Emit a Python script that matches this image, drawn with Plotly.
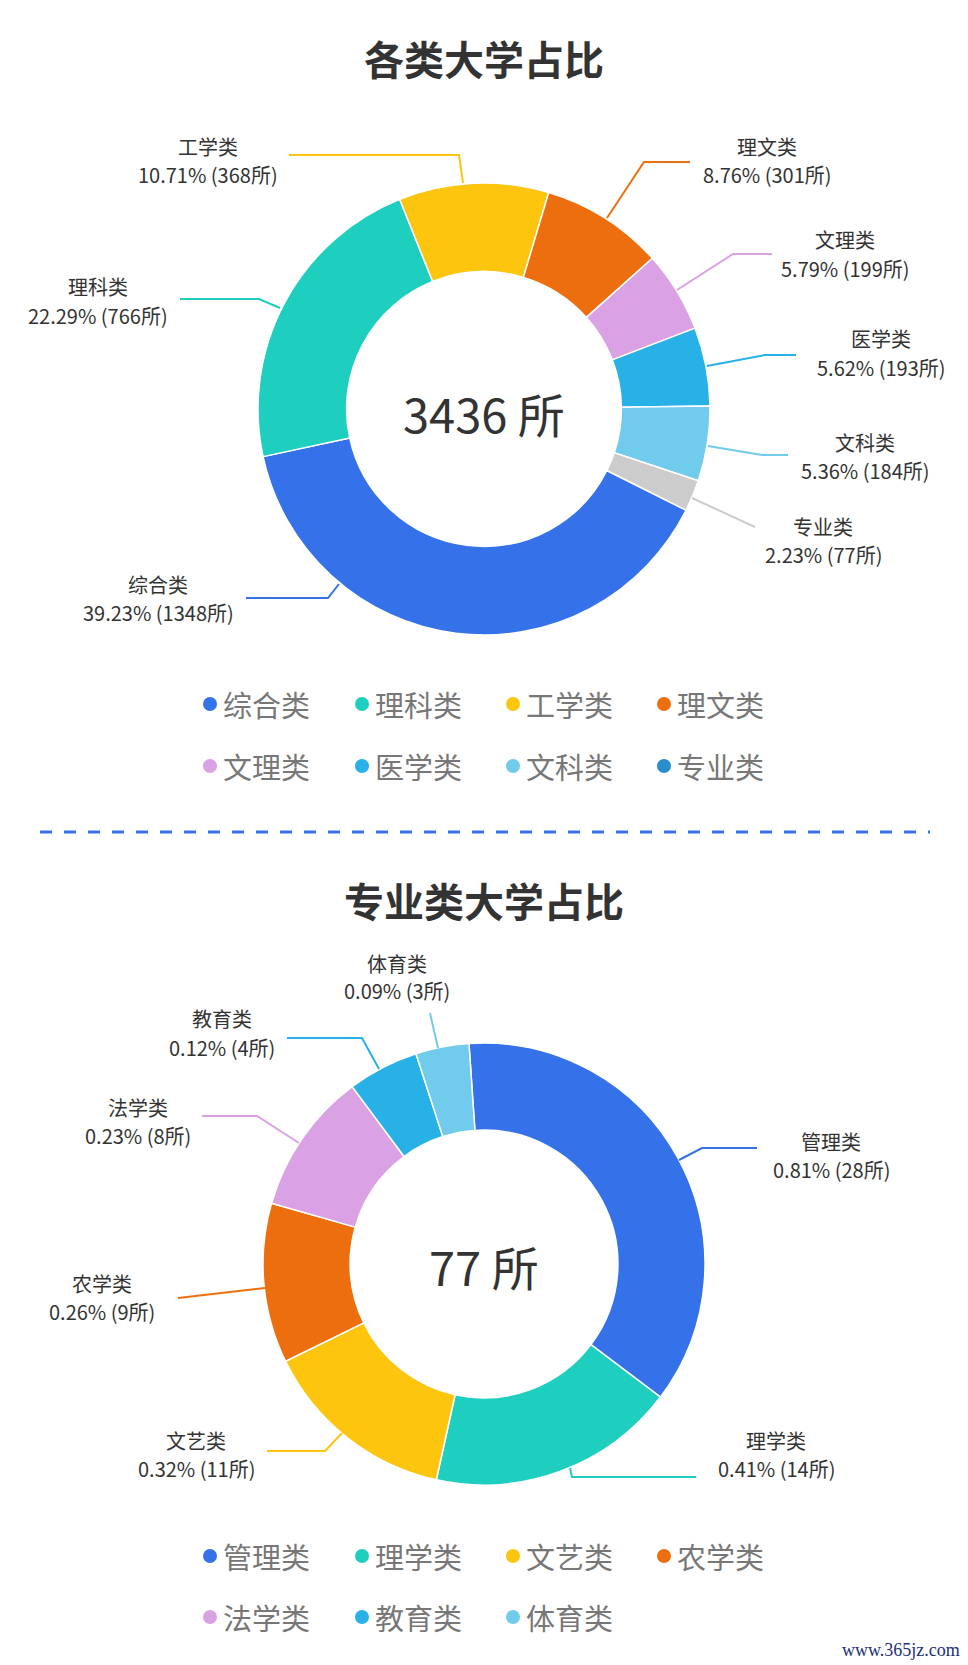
import plotly.graph_objects as go

W, H = 968, 1665

# %% data
cats_all = ["综合类", "理科类", "工学类", "理文类", "文理类", "医学类", "文科类", "专业类"]
counts_all = [1348, 766, 368, 301, 199, 193, 184, 77]
pct_all = ["39.23%", "22.29%", "10.71%", "8.76%", "5.79%", "5.62%", "5.36%", "2.23%"]

cats_pro = ["管理类", "理学类", "文艺类", "农学类", "法学类", "教育类", "体育类"]
counts_pro = [28, 14, 11, 9, 8, 4, 3]
pct_pro = ["0.81%", "0.41%", "0.32%", "0.26%", "0.23%", "0.12%", "0.09%"]

palette = ["#3572e9", "#1ecebf", "#fec50f", "#ed6e0e", "#dba1e5", "#27b1e6", "#70cbec"]
colors_all = palette + ["#cccccc"]
legend_colors_all = palette + ["#2a8ecc"]
colors_pro = palette

# %% label layout in page pixels: leader polyline, label centre x, name y, value y
top_labels = [
    ([(339, 584), (328, 598), (246, 598)], 158, 585, 613),
    ([(280, 308), (259, 299), (180, 299)], 98, 287, 315),
    ([(463, 183), (459, 155), (289, 155)], 208, 147, 175),
    ([(607, 218), (644, 162), (690, 162)], 767, 147, 175),
    ([(677, 290), (733, 254), (772, 254)], 845, 240, 268),
    ([(707, 366), (765, 355), (796, 355)], 881, 338, 367),
    ([(708, 446), (762, 455), (788, 455)], 865, 442, 470),
    ([(692, 498), (755, 527)], 823, 527, 555),
]
bottom_labels = [
    ([(679, 1160), (702, 1148), (757, 1148)], 831, 1141, 1169),
    ([(570, 1468), (572, 1477), (696, 1477)], 776, 1440, 1468),
    ([(342, 1433), (325, 1451), (267, 1451)], 196, 1440, 1468),
    ([(265, 1288), (178, 1298)], 102, 1283, 1311),
    ([(299, 1143), (257, 1116), (202, 1116)], 138, 1107, 1135),
    ([(379, 1069), (362, 1038), (287, 1038)], 222, 1018, 1047),
    ([(438, 1048), (430, 1013)], 397, 963, 991),
]

FONT = "Noto Sans CJK SC"


def px(x):
    return x / W


def py(y):
    return 1 - y / H


def donut(labels, values, colors, cx, cy, r, hole, rotation):
    return go.Pie(
        labels=labels,
        values=values,
        sort=False,
        direction="clockwise",
        rotation=rotation,
        hole=hole,
        textinfo="none",
        showlegend=False,
        marker=dict(colors=colors, line=dict(color="white", width=1.5)),
        domain=dict(x=[px(cx - r), px(cx + r)], y=[py(cy + r), py(cy - r)]),
        hoverinfo="label+value",
    )


fig = go.Figure()
fig.add_trace(donut(cats_all, counts_all, colors_all, 484, 409, 226, 0.608, 116.6))
fig.add_trace(donut(cats_pro, counts_pro, colors_pro, 484, 1264, 221, 0.606, -3.9))

annotations = []
shapes = []


def text(x, y, s, size, color="#333333", anchor="center", weight="normal", family=FONT):
    annotations.append(
        dict(
            x=px(x), y=py(y), xref="paper", yref="paper", text=s, showarrow=False,
            xanchor=anchor, yanchor="middle",
            font=dict(family=family, size=size, color=color, weight=weight),
        )
    )


# titles and centre totals
text(484, 58, "各类大学占比", 40, weight="bold")
text(484, 900, "专业类大学占比", 40, weight="bold")
text(484, 412, f"{sum(counts_all)} 所", 47)
text(484, 1265, f"{sum(counts_pro)} 所", 47)


# slice labels with leader lines
def add_labels(layout, cats, counts, pcts, colors):
    for (pts, lx, ny, vy), cat, n, pct, col in zip(layout, cats, counts, pcts, colors):
        path = "M " + " L ".join(f"{px(x)},{py(y)}" for x, y in pts)
        shapes.append(
            dict(type="path", xref="paper", yref="paper", path=path,
                 line=dict(color=col, width=2))
        )
        text(lx, ny, cat, 20)
        text(lx, vy, f"{pct} ({n}所)", 20)


add_labels(top_labels, cats_all, counts_all, pct_all, colors_all)
add_labels(bottom_labels, cats_pro, counts_pro, pct_pro, colors_pro)

# custom legends, four per row
legend_cols = [210, 362, 513, 664]


def add_legend(cats, colors, rows):
    for i, (cat, col) in enumerate(zip(cats, colors)):
        cx = legend_cols[i % 4]
        cy = rows[i // 4]
        shapes.append(
            dict(type="circle", xref="paper", yref="paper",
                 x0=px(cx - 7), x1=px(cx + 7), y0=py(cy + 7), y1=py(cy - 7),
                 fillcolor=col, line=dict(width=0))
        )
        text(cx + 11, cy, cat, 29, color="#777777", anchor="left")


add_legend(cats_all, legend_colors_all, [704, 766])
add_legend(cats_pro, colors_pro, [1556, 1617])

# dashed separator
shapes.append(
    dict(type="line", xref="paper", yref="paper", x0=px(40), x1=px(930),
         y0=py(832), y1=py(832), line=dict(color="#3572e9", width=3, dash="12px,12px"))
)

text(962, 1650, "www.365jz.com", 18, color="#1d2f73", anchor="right",
     family="Liberation Serif")

fig.update_layout(
    width=W,
    height=H,
    margin=dict(l=0, r=0, t=0, b=0),
    paper_bgcolor="white",
    plot_bgcolor="white",
    annotations=annotations,
    shapes=shapes,
)

# the page body has a default 8px margin; drop it so the figure fills the window
fig.write_html(
    "out.html",
    config={"displayModeBar": False},
    post_script="document.body.style.margin = '0px';",
)
